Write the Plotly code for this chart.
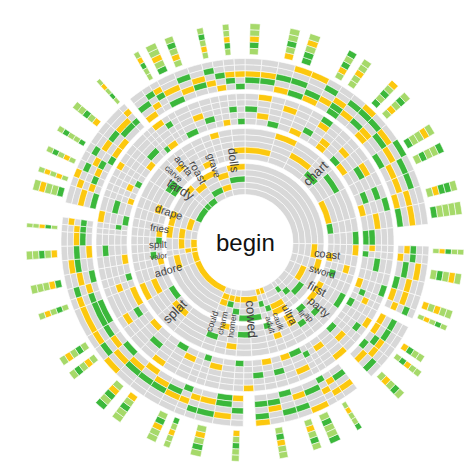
import math

import plotly.graph_objects as go

# wordle solver tree: first guess "begin", each band = 5 feedback rings of a guess
GREY = '#d8d8d8'
YELLOW = '#fcc80e'
GREEN = '#3bb83b'
LIGHT = '#a6d96a'
COLORS = {'x': GREY, 'y': YELLOW, 'g': GREEN, 'l': LIGHT}

# second guesses, clockwise from 12 o'clock, with the feedback of "begin"
group_words = ['chart', 'coast', 'sword', 'first', 'party', 'ap', 'lit', 'ultra', 'caulk',
               'adult', 'cowed', 'homer', 'charm', 'could', 'splat', 'adore', 'valor', 'spilt',
               'fries', 'drape', 'tardy', 'carve', 'aorta', 'roast', 'grave', 'dolls']
group_patterns = ['xxxxx', 'xxxyx', 'xxxxy', 'xxyxx', 'xxxgx', 'xxgxx', 'xgxxx', 'xxxyy', 'yxxgx',
                  'yxgxx', 'xyxxg', 'xyxgx', 'xygxx', 'xyyxx', 'yxxxx', 'yxxyx', 'yyxxx', 'yxyxx',
                  'xxyxy', 'xyxxy', 'gxxxx', 'gxxxy', 'gxxyx', 'xgxxy', 'xyxyx', 'xxgxy']

# feedback of the second guess: pattern:weight/third-guess feedback patterns
band2 = [
    'xyxxx:14/xxgxx,xyxxy,gxxxx;xxxxy:10/xxxyx,yxxxx;xxyxx:12/xgxxx,xxxyg,yyxxx;xgxxx:8/xxxxx,gxyxx;'
    'xxxgx:10/yxxxx,xxgyx;yxxxx:14/xxxxx,xgxgx,yxxxg;gxxxx:6/xxyxx;xxxxg:6/ggxxx',
    'xxxxy:5/xyxxx,gxxxx;yxxxx:5/xxgxx',
    'xxxyx:4/xxxxx;xgxxx:4/yxxxg',
    'xxxxx:5/xgxxx,xxyxx;yxxxg:7/gxxxx,xxxxy',
    'yxxxx:6/xxxgx,xxxxx;xxgxx:4/gxyxx',
    'gxxxx:5/xxxxy',
    'xxgxx:4/xyxxx',
    'yyxxx:5/xxxxx,xgxxx;xxxxx:5/gxxyx',
    'xxyxx:4/yxxxx',
    'gxxxx:4/xxgxx',
    'xxxxx:8/yxxxx,xxgxx;xgxxx:7/xxxxy,gxxxx',
    'xxxyx:5/xxxxx',
    'yxxxx:5/xyxxx',
    'xxgxx:6/gxxxx,xxxxx',
    'xxxxx:14/xyxxx,gxxxx,xxxxy;xyxxx:10/xxgxx,yxxxx;gxxxx:8/xxxxx,xgxyx;xxyxy:8/yxxxx',
    'xxxxx:6/xxyxx,gxxxx;yxxxx:4/xxxxx',
    'xgxxx:4/yxxxx',
    'xxxxx:4/xxxgx;gxxxx:4/xxxxx',
    'yxxxx:4/xxxxx,xgxxx;xxxxx:4/gxxxy',
    'xxxxx:5/xxgxx;xyxxx:5/yxxxx,xxxxx',
    'xxxxx:8/xyxxx,gxxxx,xxxxy;ggxxx:7/xxxxx,yxxxx',
    'xxxxx:5/xgxxx',
    'xxyxx:4/xxxxx,gxxxx;xxxxx:4/yxxxy',
    'xxxxx:5/xxxgx,xxxxx;yxxxx:5/gxxxx',
    'xxxxx:4/xxyxx;xxxxy:4/xgxxx',
    'xxxxx:6/xxxxx,yxxxx;xyxxx:6/xxgxx,gxxxx',
]

# fourth-guess feedback for the third-guess leaves of each group, in order ('-' = solved)
band4 = [
    'xgyxx,xgyxx,yxgxx,gxgxy,ygxxy,xyxgx,ggyxx,xyxgx,xgxgy,yyxgx,xxgyx,gxyxg,xyxgx,xyxgx,yxyxx,gxyxx',
    'xygxx,yxgxx,xgxyx', 'gxyxx,yxyxx', 'xyxgx,-,yxgxx,yxgxx', 'xgyxx,gxyxx,xyxgx', '-', 'xgxyx',
    'xyxyx,gxyxx,xgxxy', 'xyxgx', 'gxxgx', 'xgyxx,xgxgy,-,yxgxx', 'ggxyx', 'xyxgx', 'xyxgx,gxyxx',
    'xgyxx,xygxx,yxgxx,xygxx,gxyxy,xyxgx,xgxyx,ggxyx', 'xgxyx,xyxgx,gxyxx', 'xxgyx', 'yxgxx,xgyxx',
    'xgyxx,xgxyx,-', 'gxyxx,xyxyx,xgxxy', 'xyxgx,xgyxx,gxxgx,yxyxx,yxgxx', 'xgyxx', 'xgxyx,-,yxgxx',
    'xyxgx,xxgyx,gxyxx', 'xyxgx,xgyxx', 'xyxgx,yxgxx,xgyxx,gxyxx',
]

# fifth-guess feedback (outer spikes) for the same leaves ('-' = none)
band5 = [
    'lgyll,-,ylgll,gglyl,-,lyglg,llyll,-,glgly,lylgl,-,gllyl,lgllg,-,lyggl,gllll',
    'lygll,-,lglyl', '-,ylyll', 'lylgl,-,-,ygll', 'lgyll,-,lylgl', '-', '-',
    'lyllg,-,lgllg', 'lylgl', '-', 'lgyll,-,-,ylgll', '-', 'lylgl', '-,glyll',
    'lgyll,-,ylgll,lyglg,-,lylgl,lglyl,-', 'lglyl,-,gylll', '-', 'ylgll,-',
    'lgyll,-,-', 'gllyl,lylyl,-', 'lylgl,-,gllgl,-,ylgll', '-', 'lglyl,-,-',
    '-,llgyl,glyll', 'lylgl,-', 'lylgl,-,lgyll,-',
]

CENTRE = 48   # radius of the empty centre, px
RING = 6.2    # thickness of one feedback ring
GAP = 4       # white gap between guesses

# parse into nested lists: group -> [(pattern, [(leaf_pattern, weight, fourth, fifth)])]
tree = []
group_totals = []
for g in range(len(group_words)):
    fours = band4[g].split(',')
    fives = band5[g].split(',')
    k = 0
    entries = []
    for e in band2[g].split(';'):
        head, kids = e.split('/')
        pat, w = head.split(':')
        kids = kids.split(',')
        leaves = []
        for kid in kids:
            four = fours[k] if k < len(fours) else '-'
            five = fives[k] if k < len(fives) else '-'
            k += 1
            leaves.append((kid, float(w) / len(kids), four, five))
        entries.append((pat, leaves))
    tree.append(entries)
    group_totals.append(sum(l[1] for e in entries for l in e[1]))
total = sum(group_totals)
scale = 360.0 / total

bars = {c: dict(theta=[], width=[], base=[], r=[]) for c in COLORS}


def draw(pattern, level, start, weight):
    # one guess = five rings spanning [start, start+weight]
    for i, ch in enumerate(pattern):
        b = bars[ch]
        b['theta'].append((start + weight / 2) * scale)
        b['width'].append(weight * scale)
        b['base'].append(CENTRE + level * (5 * RING + GAP) + i * RING)
        b['r'].append(RING)


acc = 0.0
for g in range(len(group_words)):
    draw(group_patterns[g], 0, acc, group_totals[g])
    pos = acc
    for pat, leaves in tree[g]:
        w2 = sum(l[1] for l in leaves)
        draw(pat, 1, pos, w2)
        for kid, lw, four, five in leaves:
            draw(kid, 2, pos, lw)
            if four != '-':
                draw(four, 3, pos, lw)
                if five != '-':
                    draw(five, 4, pos + lw * 0.25, lw * 0.5)
            pos += lw
    acc += group_totals[g]

fig = go.Figure()
for ch, b in bars.items():
    fig.add_trace(go.Barpolar(theta=b['theta'], width=b['width'], base=b['base'], r=b['r'],
                              marker=dict(color=COLORS[ch], line=dict(color='white', width=0.6)),
                              hoverinfo='skip', showlegend=False))

# word labels on the second band
annotations = [dict(text='begin', x=0.5, y=0.5, xref='paper', yref='paper', showarrow=False,
                    font=dict(size=24, color='#111', family='Liberation Sans'))]
r_px = CENTRE + 5 * RING + GAP + 2.5 * RING
acc = 0.0
for word, t in zip(group_words, group_totals):
    theta = (acc + t / 2) * scale
    acc += t
    rad = math.radians(theta)
    ang = theta - 90 if theta < 180 else theta - 270
    size = min(13, 6 + t * 0.5)
    annotations.append(dict(text=word, x=0.5 + r_px * math.sin(rad) / 474,
                            y=0.5 + r_px * math.cos(rad) / 469, xref='paper', yref='paper',
                            showarrow=False, textangle=ang,
                            font=dict(size=size, color='#444', family='Liberation Sans')))

fig.update_layout(
    width=474, height=469, margin=dict(l=0, r=0, t=0, b=0), paper_bgcolor='white',
    annotations=annotations,
    polar=dict(domain=dict(x=[0, 1], y=[0, 1]), bgcolor='white', bargap=0,
               radialaxis=dict(range=[0, 234.5], visible=False),
               angularaxis=dict(direction='clockwise', rotation=90, visible=False)),
)
fig.write_html('out.html')
